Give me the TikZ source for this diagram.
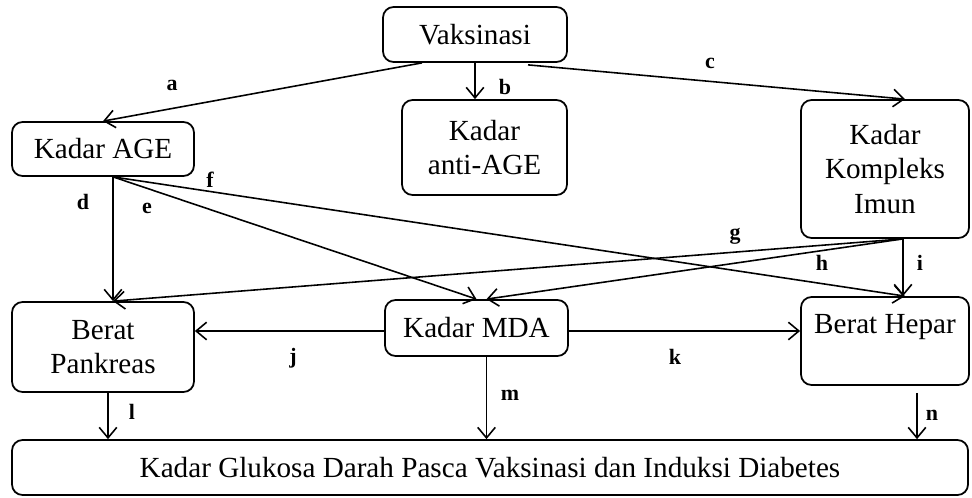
\documentclass[tikz,border=0pt]{standalone}
\usepackage{fontspec}
\setmainfont{Liberation Serif}
\usetikzlibrary{arrows.meta,calc}
\newdimen\pxu
\pxu=0.02cm

\begin{document}
\begin{tikzpicture}[x=0.02cm,y=-0.02cm,
  box/.style={draw,line width=1pt,rounded corners=6pt,align=center,inner sep=0pt,
    font=\fontsize{16.6}{19.5}\selectfont},
  lbl/.style={inner sep=0pt,font=\fontsize{12.5}{14}\selectfont\bfseries},
  arr/.style={-{Straight Barb[length=6pt,width=10pt]},line width=0.9pt}]
\useasboundingbox (0,0) rectangle (972,497);

% Boxes
\node[box,minimum width=184\pxu,minimum height=55\pxu] (vak) at (475,34.5) {Vaksinasi};
\node[box,minimum width=182\pxu,minimum height=54\pxu] (age) at (103,149) {Kadar AGE};
\node[box,minimum width=165\pxu,minimum height=95\pxu] (anti) at (484.5,147.5) {Kadar\\anti-AGE};
\node[box,minimum width=168\pxu,minimum height=138\pxu] (kim) at (885,169) {Kadar\\Kompleks\\Imun};
\node[box,minimum width=182\pxu,minimum height=90\pxu] (pank) at (103,347) {Berat\\Pankreas};
\node[box,minimum width=183\pxu,minimum height=56\pxu] (mda) at (476.5,328) {Kadar MDA};
\node[box,minimum width=168\pxu,minimum height=88\pxu] (hep) at (885,341) {Berat Hepar\\\mbox{}};
\node[box,minimum width=956\pxu,minimum height=55\pxu] (glu) at (490,467.5)
  {Kadar Glukosa Darah Pasca Vaksinasi dan Induksi Diabetes};

% Start points
\coordinate (agebot) at ($(age.south)+(10,0)$);
\coordinate (kimbot) at ($(kim.south)+(18,0)$);
\coordinate (pankbot) at ($(pank.south)+(5,0)$);
\coordinate (mdabot) at ($(mda.south)+(10,0)$);
\coordinate (hepbot) at ($(hep.south)+(32,7)$);

% From Vaksinasi
\draw[arr] ($(vak.south)+(-53,0)$) -- (age.north);
\draw[arr] (vak.south) -- (vak.south |- anti.north);
\draw[arr] ($(vak.south)+(53,2)$) -- ($(kim.north)+(20,0)$);

% From Kadar AGE
\draw[arr] (agebot) -- (agebot |- pank.north);
\draw[arr] (agebot) -- (mda.north);
\draw[arr] (agebot) -- ($(hep.north)+(20,0)$);

% From Kadar Kompleks Imun
\draw[arr] (kimbot) -- ($(pank.north)+(10,0)$);
\draw[arr] (kimbot) -- ($(mda.north)+(10,0)$);
\draw[arr] (kimbot) -- (kimbot |- hep.north);

% From Kadar MDA
\draw[arr] ([yshift=-3\pxu]mda.west) -- ([yshift=-3\pxu]mda.west -| pank.east);
\draw[arr] ([yshift=-3\pxu]mda.east) -- ([yshift=-3\pxu]mda.east -| hep.west);

% To Kadar Glukosa
\draw[arr] (pankbot) -- (pankbot |- glu.north);
\draw[arr] (mdabot) -- (mdabot |- glu.north);
\draw[arr] (hepbot) -- (hepbot |- glu.north);

% Path labels
\node[lbl] (la) at (172,85) {a};
\node[lbl] (lb) at (505,87) {b};
\node[lbl] (lc) at (710,63) {c};
\node[lbl] (ld) at (83,202) {d};
\node[lbl] (le) at (147,208) {e};
\node[lbl] (lf) at (210,180) {f};
\node[lbl] (lg) at (735,236) {g};
\node[lbl] (lh) at (822,263) {h};
\node[lbl] (li) at (920,263) {i};
\node[lbl] (lj) at (293,358) {j};
\node[lbl] (lk) at (675,357) {k};
\node[lbl] (ll) at (132,412) {l};
\node[lbl] (lm) at (510,395) {m};
\node[lbl] (ln) at (932,415) {n};
\end{tikzpicture}
\end{document}
